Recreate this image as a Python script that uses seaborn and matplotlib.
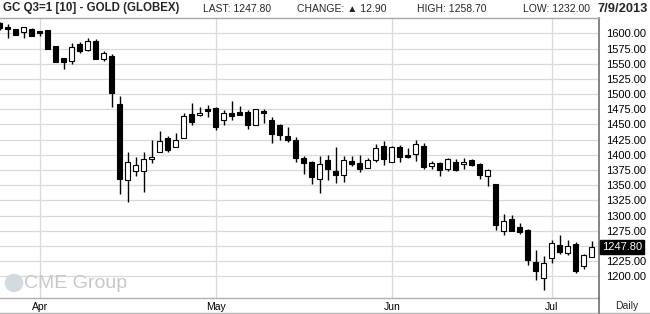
import matplotlib
matplotlib.use("Agg")
import matplotlib.pyplot as plt
from matplotlib.lines import Line2D
from matplotlib.patches import Ellipse
import seaborn as sns
import pandas as pd
import numpy as np

# ---- data ----
dates = [
    "2013-03-22", "2013-03-25", "2013-03-26", "2013-03-27", "2013-03-28",
    "2013-04-01", "2013-04-02", "2013-04-03", "2013-04-04", "2013-04-05",
    "2013-04-08", "2013-04-09", "2013-04-10", "2013-04-11", "2013-04-12",
    "2013-04-15", "2013-04-16", "2013-04-17", "2013-04-18", "2013-04-19",
    "2013-04-22", "2013-04-23", "2013-04-24", "2013-04-25", "2013-04-26",
    "2013-04-29", "2013-04-30",
    "2013-05-01", "2013-05-02", "2013-05-03", "2013-05-06", "2013-05-07",
    "2013-05-08", "2013-05-09", "2013-05-10", "2013-05-13", "2013-05-14",
    "2013-05-15", "2013-05-16", "2013-05-17", "2013-05-20", "2013-05-21",
    "2013-05-22", "2013-05-23", "2013-05-24", "2013-05-28", "2013-05-29",
    "2013-05-30", "2013-05-31",
    "2013-06-03", "2013-06-04", "2013-06-05", "2013-06-06", "2013-06-07",
    "2013-06-10", "2013-06-11", "2013-06-12", "2013-06-13", "2013-06-14",
    "2013-06-17", "2013-06-18", "2013-06-19", "2013-06-20", "2013-06-21",
    "2013-06-24", "2013-06-25", "2013-06-26", "2013-06-27", "2013-06-28",
    "2013-07-01", "2013-07-02", "2013-07-03", "2013-07-05", "2013-07-08",
    "2013-07-09",
]
opens = [
    1617.0, 1611.0, 1606.5, 1601.6, 1606.5,
    1603.0, 1605.5, 1579.0, 1559.0, 1554.0,
    1582.0, 1572.0, 1587.4, 1558.5, 1563.4,
    1483.7, 1358.0, 1372.8, 1374.0, 1393.5,
    1405.0, 1428.0, 1413.0, 1428.5, 1467.2,
    1465.6, 1475.4,
    1477.0, 1457.4, 1468.9, 1470.5, 1471.0,
    1449.9, 1471.7, 1457.5, 1449.3, 1431.3,
    1424.2, 1394.7, 1387.6, 1360.3, 1391.5,
    1374.0, 1366.9, 1389.8, 1386.5, 1378.4,
    1391.5, 1414.0,
    1388.3, 1412.3, 1399.8, 1401.4, 1414.0,
    1381.2, 1387.2, 1376.8, 1388.3, 1384.5,
    1391.6, 1385.0, 1365.9, 1352.3, 1275.3,
    1295.0, 1281.9, 1277.0, 1224.5, 1196.7,
    1231.1, 1252.4, 1239.3, 1252.9, 1218.0,
    1232.5,
]
highs = [
    1618.0, 1615.0, 1607.0, 1611.0, 1609.0,
    1604.0, 1606.0, 1579.5, 1559.5, 1584.0,
    1585.0, 1592.0, 1590.0, 1570.5, 1565.6,
    1497.0, 1405.5, 1396.8, 1404.0, 1425.0,
    1440.0, 1431.0, 1435.6, 1469.4, 1485.8,
    1478.7, 1481.4,
    1478.7, 1473.8, 1488.0, 1480.3, 1473.2,
    1476.0, 1475.0, 1461.9, 1450.0, 1445.5,
    1429.1, 1399.0, 1389.8, 1398.6, 1399.7,
    1412.8, 1398.0, 1398.0, 1399.7, 1394.2,
    1418.2, 1422.7,
    1414.5, 1415.6, 1411.2, 1424.3, 1418.9,
    1389.9, 1388.0, 1394.3, 1393.2, 1394.3,
    1393.2, 1387.2, 1376.8, 1352.8, 1302.0,
    1301.0, 1288.4, 1277.5, 1244.2, 1234.4,
    1260.6, 1267.7, 1259.5, 1256.8, 1237.1,
    1258.7,
]
lows = [
    1606.0, 1593.0, 1597.0, 1593.0, 1595.0,
    1596.0, 1574.0, 1552.0, 1541.0, 1550.0,
    1568.0, 1571.5, 1558.0, 1554.7, 1478.0,
    1336.0, 1322.5, 1365.0, 1339.0, 1387.0,
    1404.5, 1405.5, 1412.5, 1427.4, 1448.7,
    1464.5, 1462.3,
    1441.6, 1449.2, 1456.9, 1465.0, 1442.7,
    1448.8, 1453.2, 1418.8, 1425.3, 1420.4,
    1388.2, 1368.0, 1352.7, 1336.9, 1358.7,
    1353.2, 1354.9, 1381.6, 1371.3, 1378.0,
    1388.2, 1384.0,
    1388.0, 1388.8, 1395.4, 1390.5, 1376.8,
    1376.8, 1364.8, 1373.0, 1373.0, 1377.4,
    1381.8, 1360.5, 1348.4, 1275.8, 1268.2,
    1274.5, 1269.9, 1219.0, 1194.5, 1178.1,
    1222.9, 1237.1, 1234.9, 1206.0, 1212.5,
    1232.0,
]
closes = [
    1608.0, 1607.0, 1598.0, 1610.4, 1596.0,
    1600.5, 1575.0, 1553.0, 1552.0, 1577.0,
    1571.6, 1588.0, 1558.5, 1567.0, 1501.0,
    1360.0, 1388.6, 1383.7, 1393.5, 1396.8,
    1423.0, 1407.7, 1424.7, 1464.0, 1453.6,
    1468.9, 1471.6,
    1446.0, 1468.9, 1464.5, 1466.0, 1449.2,
    1475.0, 1468.4, 1435.1, 1433.5, 1423.7,
    1394.2, 1386.0, 1363.0, 1384.9, 1376.2,
    1366.3, 1390.9, 1384.9, 1376.2, 1391.5,
    1410.6, 1392.7,
    1412.3, 1396.0, 1397.0, 1417.8, 1379.6,
    1386.1, 1375.7, 1392.7, 1375.7, 1388.3,
    1382.8, 1367.0, 1374.6, 1284.0, 1291.7,
    1274.8, 1273.7, 1227.3, 1209.2, 1222.9,
    1255.7, 1240.4, 1250.2, 1209.2, 1234.9,
    1247.8,
]
month_labels = ["Apr", "May", "Jun", "Jul"]
price_ticks = [1200, 1225, 1250, 1275, 1300, 1325, 1350, 1375, 1400,
               1425, 1450, 1475, 1500, 1525, 1550, 1575, 1600]
last_price = 1247.80
header_title = "GC Q3=1 [10] - GOLD (GLOBEX)"
header_items = ["LAST: 1247.80", "CHANGE: \u25B2 12.90", "HIGH: 1258.70", "LOW: 1232.00"]
header_date = "7/9/2013"

# ---- build frame ----
df = pd.DataFrame({"date": pd.to_datetime(dates), "open": opens, "high": highs,
                   "low": lows, "close": closes})
df["pos"] = np.arange(len(df))
df["up"] = df["close"] >= df["open"]
df["body_lo"] = df[["open", "close"]].min(axis=1)
df["body_h"] = (df["close"] - df["open"]).abs().clip(lower=0.9)

sns.set_style("white")
plt.rcParams["font.family"] = ["Liberation Sans", "DejaVu Sans"]

W, H = 650, 314
fig = plt.figure(figsize=(W / 100, H / 100), dpi=100)
top_px, bot_px, right_px = 17.5, 298.0, 599.0
ax = fig.add_axes([0, (H - bot_px) / H, right_px / W, (bot_px - top_px) / H])

# gridlines
grid_c = "#d9d9d9"
for p in price_ticks:
    ax.axhline(p, color=grid_c, lw=0.9, zorder=0)
first_days = df[df["date"].dt.day <= 5].groupby(df["date"].dt.month)["pos"].first()
month_pos = list(first_days.values)
for mp in month_pos:
    ax.axvline(mp, color=grid_c, lw=0.9, zorder=0)

# candles
ax.vlines(df["pos"], df["low"], df["high"], color="black", lw=1.0, zorder=2)
ax.bar(df["pos"], df["body_h"], bottom=df["body_lo"], width=0.62,
       color=np.where(df["up"], "white", "black"), edgecolor="black",
       linewidth=0.8, zorder=3)

# axes limits / ticks (label hidden where the last-price box sits)
ax.set_xlim(0.04, len(df) - 0.1)
ax.set_ylim(1164.6, 1626.0)
ax.yaxis.tick_right()
ax.set_yticks(price_ticks)
ax.set_yticklabels(["" if abs(p - last_price) < 10 else f"{p:.2f}" for p in price_ticks])
ax.set_xticks(month_pos)
ax.set_xticklabels(month_labels)
ax.tick_params(axis="y", length=0, pad=5, labelsize=8, colors="black")
ax.tick_params(axis="x", length=0, pad=3, labelsize=7.5, colors="black")

ax.spines["left"].set_visible(False)
ax.spines["top"].set_color("#a8a8a8")
ax.spines["top"].set_linewidth(1.0)
ax.spines["bottom"].set_color("#b0b0b0")
ax.spines["bottom"].set_linewidth(1.0)
ax.spines["right"].set_color("#707070")
ax.spines["right"].set_linewidth(1.2)

# last price box
ax.text(1.0 + 3 / right_px, last_price, f"{last_price:.2f}", transform=ax.get_yaxis_transform(),
        ha="left", va="center", fontsize=8, color="white",
        bbox=dict(boxstyle="square,pad=0.18", fc="black", ec="black"), zorder=5, clip_on=False)

# bottom lines and Daily label
fig.add_artist(Line2D([0, 1], [1 - 313 / H, 1 - 313 / H], color="#b8b8b8", lw=1.0))
fig.add_artist(Line2D([right_px / W, right_px / W], [1 - 313 / H, 1 - bot_px / H], color="#707070", lw=1.2))
fig.text(627 / W, 1 - 306 / H, "Daily", ha="center", va="center", fontsize=7.5)

# watermark
fig.add_artist(Ellipse((14 / W, 1 - 283 / H), 17 / W, 17 / H, color="#d3dae2",
                       transform=fig.transFigure, zorder=0.5))
fig.text(24 / W, 1 - 283.5 / H, "CME Group", ha="left", va="center", fontsize=14,
         color="#c8c8c8", zorder=0.5)

# header
hy = 1 - 8.5 / H
fig.text(3 / W, hy, header_title, ha="left", va="center", fontsize=8.3,
         fontweight="bold")
for xpx, t in zip([203, 297, 417, 523], header_items):
    fig.text(xpx / W, hy, t, ha="left", va="center", fontsize=7.5)
fig.text(648 / W, hy, header_date, ha="right", va="center", fontsize=9.3,
         fontweight="bold")

fig.savefig("out.png", dpi=100)
